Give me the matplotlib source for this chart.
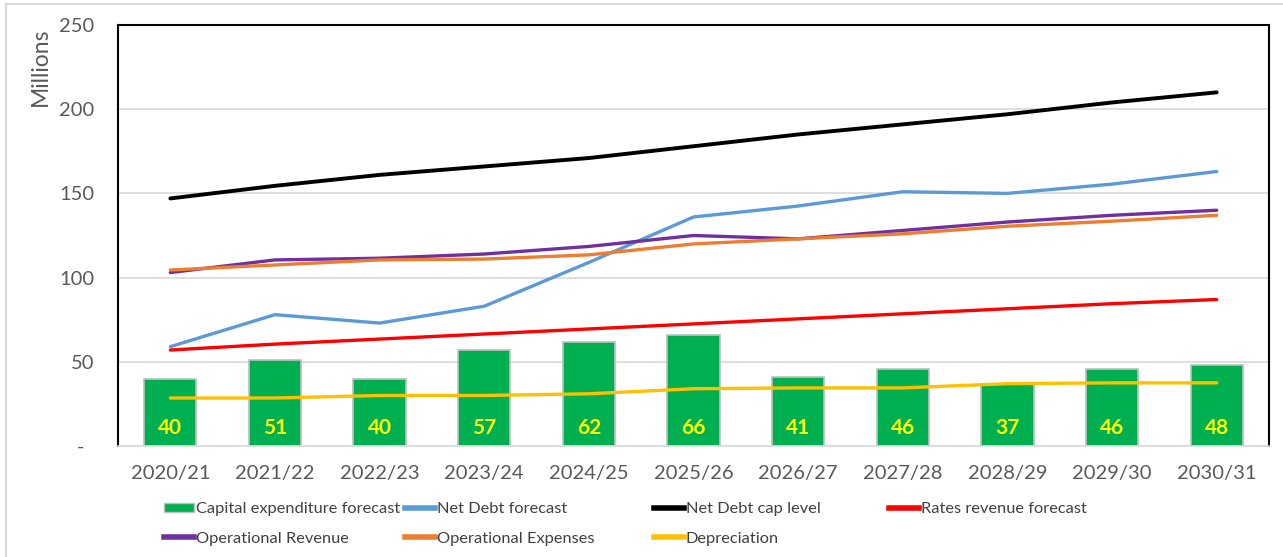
import matplotlib
matplotlib.use("Agg")
import matplotlib.pyplot as plt
from matplotlib.patches import Rectangle, Patch
from matplotlib.lines import Line2D
import numpy as np

plt.rcParams['font.family'] = ['Lato', 'DejaVu Sans']

years = ["2020/21", "2021/22", "2022/23", "2023/24", "2024/25", "2025/26",
         "2026/27", "2027/28", "2028/29", "2029/30", "2030/31"]
capex = [40, 51, 40, 57, 62, 66, 41, 46, 37, 46, 48]
net_debt = [59, 78, 73, 83, 109, 136, 142.5, 151, 150, 155.5, 163]
debt_cap = [147, 154.5, 161, 166, 171, 178, 185, 191, 197, 204, 210]
rates_rev = [57, 60.5, 63.5, 66.5, 69.5, 72.5, 75.5, 78.5, 81.5, 84.5, 87]
op_rev = [103, 110.5, 111.5, 114, 118.5, 125, 123, 128, 133, 137, 140]
op_exp = [104.5, 107.5, 110.5, 111, 113.5, 120, 123, 126, 130.5, 133.5, 137]
deprec = [28.5, 28.5, 30, 30, 31, 34, 34.5, 34.5, 37, 37.5, 37.5]

W, H = 1283, 557
fig = plt.figure(figsize=(W / 100, H / 100), dpi=100)
ax = fig.add_axes([118 / W, 1 - 446 / H, (1269 - 118) / W, (446 - 25) / H])

x = np.arange(len(years))
bars = ax.bar(x, capex, width=0.5, color="#00B050", edgecolor="#BFBFBF",
              linewidth=1.2, zorder=2)
for xi, v in zip(x, capex):
    ax.text(xi, 10.7, f"{v}", ha="center", va="center", color="#FFFF00",
            fontsize=15, fontweight="bold", zorder=5)

lw = 2.4
series = [
    (net_debt, "#5B9BD5", "Net Debt forecast", lw),
    (debt_cap, "#000000", "Net Debt cap level", 2.8),
    (rates_rev, "#FF0000", "Rates revenue forecast", lw),
    (op_rev, "#7030A0", "Operational Revenue", lw),
    (op_exp, "#ED7D31", "Operational Expenses", lw),
    (deprec, "#FFC000", "Depreciation", lw),
]
handles = {}
for vals, col, name, w in series:
    ax.plot(x, vals, color=col, linewidth=w, zorder=3, solid_capstyle="round")
    handles[name] = Line2D([], [], color=col, linewidth=4)

ax.set_xlim(-0.5, len(years) - 0.5)
ax.set_ylim(0, 250)
ax.set_yticks([0, 50, 100, 150, 200, 250])
ax.set_yticklabels(["-  ", "50", "100", "150", "200", "250"])
ax.set_xticks(x)
ax.set_xticklabels(years)
ax.tick_params(axis="y", length=0, pad=17, labelsize=14.5, labelcolor="#595959")
ax.tick_params(axis="x", length=0, pad=14, labelsize=14.5, labelcolor="#595959")
ax.grid(axis="y", color="#D9D9D9", linewidth=1.2, zorder=0)
ax.set_axisbelow(True)
for s in ["left", "top", "right"]:
    ax.spines[s].set_color("#000000")
    ax.spines[s].set_linewidth(1.5)
ax.spines["bottom"].set_color("#D9D9D9")
ax.spines["bottom"].set_linewidth(1.2)

fig.text(40 / W, 1 - 67 / H, "Millions", rotation=90, ha="center", va="center",
         fontsize=16.5, color="#595959")

# outer frame
fig.patches.append(Rectangle((6 / W, -0.05), 1.2, 1 - 4 / H + 0.05,
                             transform=fig.transFigure, fill=False,
                             edgecolor="#D9D9D9", linewidth=1.5))

bar_handle = Patch(facecolor="#00B050", edgecolor="#BFBFBF", linewidth=1)
cols = [
    (164, [(bar_handle, "Capital expenditure forecast"),
           (handles["Operational Revenue"], "Operational Revenue")]),
    (405, [(handles["Net Debt forecast"], "Net Debt forecast"),
           (handles["Operational Expenses"], "Operational Expenses")]),
    (654, [(handles["Net Debt cap level"], "Net Debt cap level"),
           (handles["Depreciation"], "Depreciation")]),
    (889, [(handles["Rates revenue forecast"], "Rates revenue forecast")]),
]
for xpos, items in cols:
    fig.legend([h for h, _ in items], [l for _, l in items],
               loc="upper left", bbox_to_anchor=(xpos / W, 1 - 502 / H),
               frameon=False, fontsize=11.8, labelcolor="#404040",
               handlelength=1.85, handleheight=0.5, handletextpad=0.1,
               labelspacing=0.95, borderpad=0, borderaxespad=0)

fig.savefig("out.png", dpi=100)
